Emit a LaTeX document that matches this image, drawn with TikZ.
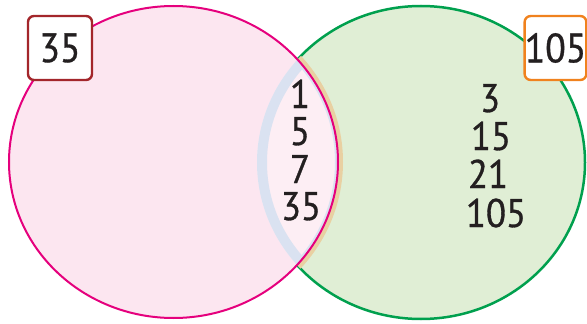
\documentclass[tikz,border=0pt]{standalone}
\usepackage{fontspec}
\setmainfont[FakeStretch=0.92,FakeBold=0.8]{PT Sans}
\definecolor{pinkline}{HTML}{E5007D}
\definecolor{pinkfill}{HTML}{FCE6F0}
\definecolor{lensfill}{HTML}{FDEEF4}
\definecolor{greenline}{HTML}{00A04E}
\definecolor{greenfill}{HTML}{E0EED5}
\definecolor{bandblue}{HTML}{DAE2F1}
\definecolor{bandorange}{HTML}{E9D0A2}
\definecolor{boxred}{HTML}{A3262B}
\definecolor{boxorange}{HTML}{F0821E}
\definecolor{numtext}{HTML}{231F20}
\tikzset{
  num/.style={anchor=base, inner sep=0pt, text=numtext, font=\fontsize{40}{40}\selectfont},
  tagbox/.style={draw, line width=2.4pt, rounded corners=6pt, fill=white, inner sep=0pt, minimum height=64pt, text=numtext, font=\fontsize{41}{41}\selectfont}
}
\begin{document}
\begin{tikzpicture}[x=1pt,y=-1pt]
\useasboundingbox (0,0) rectangle (587,324);
\def\pinkpath{(173.5,162) ellipse [x radius=164.5pt, y radius=156pt]}
\def\greenpath{(421,162.5) ellipse [x radius=164pt, y radius=156.5pt]}
% green circle
\fill[greenfill] \greenpath;
\draw[greenline, line width=2.5pt] \greenpath;
% orange band outside pink edge, inside green
\begin{scope}
  \clip \greenpath;
  \draw[bandorange, line width=10pt] \pinkpath;
\end{scope}
% pink circle fill
\fill[pinkfill] \pinkpath;
% lens
\begin{scope}
  \clip \pinkpath;
  \clip \greenpath;
  \fill[lensfill] \greenpath;
  \draw[bandblue, line width=20pt] \greenpath;
  \draw[bandblue, line width=6pt] \pinkpath;
\end{scope}
\draw[pinkline, line width=2pt] \pinkpath;
% tags
\node[tagbox, draw=boxred, minimum width=64pt] (tagA) at (60,48) {35};
\node[tagbox, draw=boxorange, minimum width=61pt] (tagB) at (555.5,48) {105};
% lens numbers
\node[num] (l1) at (300,108) {1};
\node[num] (l2) at (300,145) {5};
\node[num] (l3) at (300,183) {7};
\node[num] (l4) at (301,220) {35};
% right numbers
\node[num] (r1) at (490,112) {3};
\node[num] (r2) at (491,150) {15};
\node[num] (r3) at (488,188) {21};
\node[num] (r4) at (496,227) {105};
\end{tikzpicture}
\end{document}
